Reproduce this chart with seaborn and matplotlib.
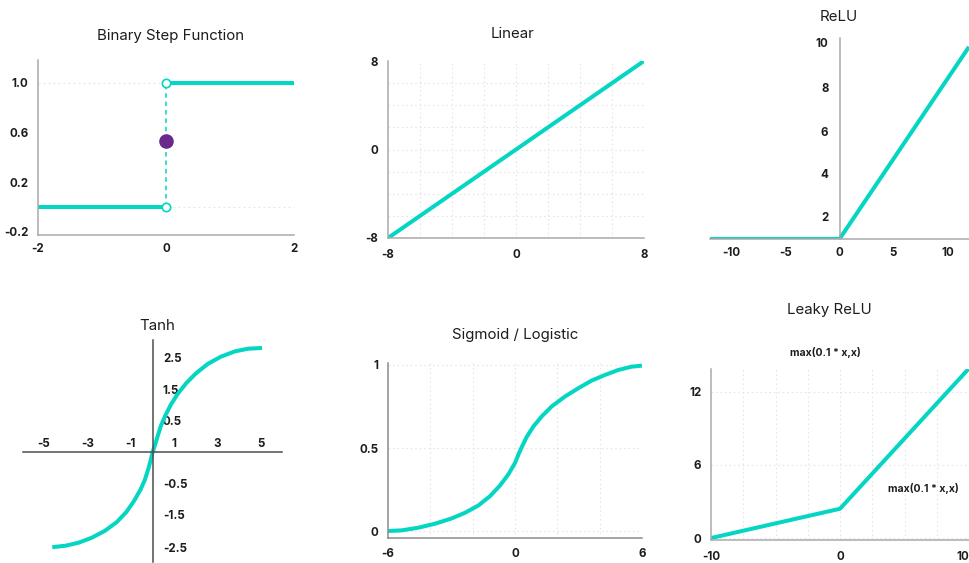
"""Six activation functions drawn as small panels."""

import seaborn as sns
import matplotlib.pyplot as plt
from matplotlib.ticker import FixedLocator
from matplotlib.transforms import ScaledTranslation

# values
step_left_x = [-2, 0]
step_left_y = [0, 0]
step_right_x = [0, 2]
step_right_y = [1, 1]
step_mid_y = 0.53
step_xticks = [-2, 0, 2]
step_yticks = [-0.2, 0.2, 0.6, 1.0]
step_ylabels = ["-0.2", "0.2", "0.6", "1.0"]

linear_x = [-8, 8]
linear_y = [-8, 8]
linear_ticks = [-8, 0, 8]

relu_x = [-12, 0, 12]
relu_y = [0, 0, 9.8]
relu_xticks = [-10, -5, 0, 5, 10]
relu_yticks = [2, 4, 6, 8, 10]

tanh_x = [-4.62, -4.0, -3.4, -2.8, -2.2, -1.65, -1.2, -0.85, -0.55, -0.35,
          -0.2, -0.08, 0, 0.12, 0.25, 0.4, 0.6, 0.85, 1.15, 1.55, 2.0, 2.55,
          3.15, 3.8, 4.4, 5.05]
tanh_y = [-2.5, -2.46, -2.38, -2.25, -2.07, -1.84, -1.57, -1.28, -0.98, -0.72,
          -0.45, -0.2, 0, 0.2, 0.45, 0.72, 0.98, 1.26, 1.53, 1.82, 2.08, 2.33,
          2.52, 2.66, 2.73, 2.75]
tanh_xticks = [-5, -3, -1, 1, 3, 5]
tanh_yticks = [2.5, 1.5, 0.5, -0.5, -1.5, -2.5]

sig_x = [-6.0, -5.35, -4.57, -3.78, -2.99, -2.36, -1.73, -1.18, -0.71, -0.32,
         0.0, 0.16, 0.32, 0.55, 0.87, 1.26, 1.73, 2.36, 2.99, 3.62, 4.25, 4.88,
         5.51, 6.0]
sig_y = [0.0, 0.004, 0.02, 0.044, 0.076, 0.11, 0.154, 0.21, 0.274, 0.34,
         0.41, 0.46, 0.506, 0.566, 0.63, 0.69, 0.75, 0.81, 0.86, 0.906, 0.94,
         0.97, 0.99, 0.996]
sig_xticks = [-6, 0, 6]
sig_yticks = [0, 0.5, 1]
sig_ylabels = ["0", "0.5", "1"]

leaky_x = [-10, 0, 10]
leaky_y = [0, 2.4, 13.9]
leaky_xticks = [-10, 0, 10]
leaky_yticks = [0, 6, 12]
leaky_label = "max(0.1 * x,x)"

TEAL = "#05d6c3"
PURPLE = "#6a2a8c"
SPINE = "#a9a9a9"
GRID = "#e6e6e6"
INK = "#1c1c1c"
W, H = 969, 563
DOTS = (0, (1.5, 2.5))

sns.set_theme(style="white")
plt.rcParams["font.family"] = ["Inter", "DejaVu Sans"]

fig = plt.figure(figsize=(W / 100, H / 100), dpi=100)


def place(left, top, right, bottom):
    """Axes from pixel box (top-left origin)."""
    return fig.add_axes([left / W, 1 - bottom / H, (right - left) / W, (bottom - top) / H])


def style(ax, color=SPINE):
    for side in ["top", "right"]:
        ax.spines[side].set_visible(False)
    for side in ["left", "bottom"]:
        ax.spines[side].set_color(color)
        ax.spines[side].set_linewidth(1.1)
    ax.tick_params(which="both", length=0, colors=INK)
    ax.set_facecolor("none")


def ticks(ax, xt, yt, xl=None, yl=None):
    xl = xl or [str(v) for v in xt]
    yl = yl or [str(v) for v in yt]
    ax.set_xticks(xt, xl, fontsize=8.3, fontweight="bold")
    ax.set_yticks(yt, yl, fontsize=8.3, fontweight="bold")


def nudge(labels, shifts):
    """Move tick labels down by the given pixels (the picture spaces them loosely)."""
    for lab, dy in zip(labels, shifts):
        lab.set_transform(lab.get_transform() + ScaledTranslation(0, -dy / 100, fig.dpi_scale_trans))


def line(ax, x, y, **kws):
    sns.lineplot(x=x, y=y, ax=ax, color=TEAL, linewidth=kws.pop("lw", 2.9),
                 estimator=None, sort=False, solid_capstyle="butt",
                 solid_joinstyle="round", **kws)


def title(x, y, text):
    fig.text(x / W, 1 - y / H, text, ha="center", va="center", fontsize=10.8, color=INK)


# Binary step
ax = place(38, 60, 294, 235)
style(ax)
ax.set_xlim(-2, 2)
ax.set_ylim(-0.226, 1.185)
for level in [step_left_y[-1], step_right_y[0]]:
    ax.axhline(level, color=GRID, lw=0.9, ls=DOTS, zorder=0)
line(ax, step_left_x, step_left_y)
line(ax, step_right_x, step_right_y)
ax.plot([step_left_x[-1], step_right_x[0]], [step_left_y[-1], step_right_y[0]],
        color=TEAL, lw=1.1, ls=(0, (3, 2.5)), zorder=3)
ax.plot([step_left_x[-1], step_right_x[0]], [step_left_y[-1], step_right_y[0]],
        ls="none", marker="o", ms=6, mfc="white", mec=TEAL, mew=1.2, zorder=4)
ax.plot([step_left_x[-1]], [step_mid_y], ls="none", marker="o", ms=9.5,
        color=PURPLE, zorder=5)
ticks(ax, step_xticks, step_yticks, yl=step_ylabels)
ax.tick_params(axis="y", pad=7)
ax.tick_params(axis="x", pad=6)
title(171, 36, "Binary Step Function")

# Linear
ax = place(388, 61, 644, 238)
style(ax)
ax.set_xlim(-8, 8)
ax.set_ylim(-8, 8)
for axis in [ax.xaxis, ax.yaxis]:
    axis.set_minor_locator(FixedLocator([-6, -4, -2, 0, 2, 4, 6]))
    axis.remove_overlapping_locs = False
ax.grid(which="minor", color=GRID, lw=0.8, ls=DOTS)
line(ax, linear_x, linear_y)
ticks(ax, linear_ticks, linear_ticks)
ax.tick_params(axis="y", pad=7)
ax.tick_params(axis="x", pad=8)
title(513, 34, "Linear")

# ReLU
ax = place(710, 38, 969, 239)
style(ax)
ax.set_xlim(-12, 12)
ax.set_ylim(0, 10.25)
ax.spines["left"].set_position(("data", 0))
line(ax, relu_x, relu_y)
ticks(ax, relu_xticks, relu_yticks)
ax.tick_params(axis="y", pad=8)
ax.tick_params(axis="x", pad=6)
nudge(ax.get_yticklabels(), [17, 13, 10, 5, 0])
title(839, 17, "ReLU")

# Tanh
ax = place(23, 340, 282, 562)
style(ax, "#4d4d4d")
ax.set_xlim(-5.97, 5.97)
ax.set_ylim(-2.89, 2.96)
for side in ["left", "bottom", "right", "top"]:
    ax.spines[side].set_position(("data", 0))
ax.xaxis.set_ticks_position("top")
ax.yaxis.set_ticks_position("right")
line(ax, tanh_x, tanh_y)
ticks(ax, tanh_xticks, tanh_yticks)
ax.tick_params(axis="x", pad=2)
ax.tick_params(axis="y", pad=7.5)
nudge(ax.get_yticklabels(), [0, -6, -13, 12, 5, 0])
title(157, 326, "Tanh")

# Sigmoid
ax = place(388, 363, 642, 538)
style(ax, "#8c8c8c")
ax.set_xlim(-6, 6)
ax.set_ylim(-0.042, 1.012)
ax.xaxis.set_minor_locator(FixedLocator([-4, -2, 0, 2, 4]))
ax.xaxis.remove_overlapping_locs = False
ax.grid(axis="x", which="minor", color=GRID, lw=0.8, ls=DOTS)
ax.grid(axis="y", which="major", color=GRID, lw=0.8, ls=DOTS)
line(ax, sig_x, sig_y)
ticks(ax, sig_xticks, sig_yticks, yl=sig_ylabels)
ax.tick_params(axis="y", pad=7)
ax.tick_params(axis="x", pad=7.5)
title(515, 335, "Sigmoid / Logistic")

# Leaky ReLU
ax = place(711, 369, 969, 540)
style(ax)
ax.set_xlim(-10, 10)
ax.set_ylim(-0.16, 13.85)
ax.xaxis.set_minor_locator(FixedLocator([-7.5, -5, -2.5, 0, 2.5, 5, 7.5]))
ax.xaxis.remove_overlapping_locs = False
ax.grid(axis="x", which="minor", color=GRID, lw=0.8, ls=DOTS)
ax.grid(axis="y", which="major", color=GRID, lw=0.8, ls=DOTS)
line(ax, leaky_x, leaky_y)
ticks(ax, leaky_xticks, leaky_yticks)
ax.tick_params(axis="y", pad=7)
ax.tick_params(axis="x", pad=8)
ax.get_xticklabels()[-1].set_horizontalalignment("right")
title(829, 310, "Leaky ReLU")
fig.text(825 / W, 1 - 352 / H, leaky_label, ha="center", va="center",
         fontsize=7.5, fontweight="bold", color=INK)
fig.text(923 / W, 1 - 488 / H, leaky_label, ha="center", va="center",
         fontsize=7.5, fontweight="bold", color=INK)

fig.savefig("out.png", dpi=100, facecolor="white")
